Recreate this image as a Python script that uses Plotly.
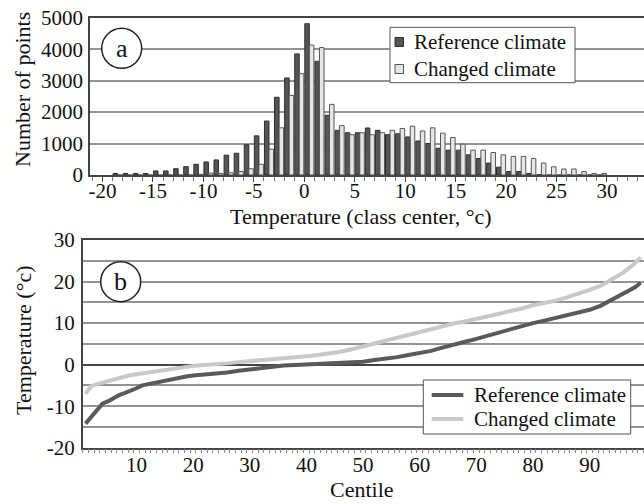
import plotly.graph_objects as go

# ---------------- Data: panel (a) histogram ----------------
class_lower = list(range(-19, 30))
ref_counts = [50, 50, 50, 50, 130, 130, 200, 265, 340, 415, 480, 630, 690, 960, 1245, 1715,
              2470, 3085, 3850, 4810, 3615, 1900, 1420, 1345, 1345, 1495, 1420, 1280, 1310,
              1210, 1080, 1000, 850, 790, 790, 640, 525, 380, 250, 110, 110, 50, 10,
              0, 0, 0, 0, 0, 0]
chg_counts = [0, 0, 0, 0, 0, 0, 0, 0, 20, 60, 50, 70, 110, 200, 340, 820,
              1500, 2530, 3220, 4130, 4050, 2245, 1570, 1280, 1345, 1280, 1345, 1420, 1480,
              1550, 1400, 1500, 1330, 1190, 980, 790, 790, 715, 640, 590, 590, 525, 380,
              260, 190, 190, 105, 50, 50]

# ---------------- Data: panel (b) centiles ----------------
centiles = [1, 2, 3, 4, 5, 6, 7, 8, 9, 10, 11, 12, 13, 14, 15, 16, 17, 18, 19, 20,
            22, 24, 26, 28, 30, 32, 34, 36, 38, 40, 42, 44, 46, 48, 50, 52, 54, 56, 58, 60,
            62, 64, 66, 68, 70, 72, 74, 76, 78, 80, 82, 84, 86, 88, 90, 92, 94, 96, 98, 99]
ref_temp = [-14.2, -12.5, -10.8, -9.4, -8.8, -8.0, -7.3, -6.8, -6.3, -5.7, -5.0, -4.7, -4.4,
            -4.1, -3.9, -3.6, -3.3, -3.0, -2.8, -2.6,
            -2.4, -2.1, -1.9, -1.5, -1.2, -0.8, -0.4, -0.2, -0.1, 0.0, 0.2, 0.3, 0.3, 0.4,
            0.7, 1.1, 1.4, 1.8, 2.3, 2.7,
            3.3, 4.1, 4.9, 5.5, 6.2, 7.0, 7.7, 8.4, 9.2, 10.0, 10.6, 11.3, 12.0, 12.6, 13.2,
            14.2, 15.6, 17.0, 18.6, 19.7]
chg_temp = [-7.0, -5.2, -4.7, -4.3, -3.9, -3.6, -3.2, -2.8, -2.5, -2.3, -2.1, -1.9, -1.6,
            -1.4, -1.2, -1.0, -0.8, -0.6, -0.4, -0.3,
            -0.1, 0.0, 0.3, 0.6, 0.8, 1.0, 1.2, 1.5, 1.8, 2.0, 2.3, 2.6, 3.1, 3.7,
            4.4, 5.1, 5.7, 6.4, 7.2, 7.9,
            8.5, 9.2, 9.9, 10.4, 11.0, 11.6, 12.2, 12.9, 13.5, 14.3, 14.8, 15.4, 16.2, 17.0,
            18.0, 19.0, 20.5, 22.2, 24.4, 25.8]

series_names = ["Reference climate", "Changed climate"]
hist_xticks = [-20, -15, -10, -5, 0, 5, 10, 15, 20, 25, 30]
hist_xlabels = ["-20", "-15", "-10", "-5", "0", "5", "10", "15", "20", "25", "30"]
hist_yticks = [0, 1000, 2000, 3000, 4000, 5000]
cent_xticks = [10, 20, 30, 40, 50, 60, 70, 80, 90]
temp_yticks = [-20, -15, -10, -5, 0, 5, 10, 15, 20, 25, 30]
temp_ylabels = ["-20", "", "-10", "", "0", "", "10", "", "20", "", "30"]

FONT = "Liberation Serif"
W, H = 644, 504

BAR_FILL = ["#555555", "#e6e6e6"]
BAR_EDGE = ["#2e2e2e", "#555555"]
LINE_COL = ["#5a5a5a", "#c8c8c8"]


def px(x):
    return x / W


def py(y):
    return (H - y) / H


class_mid = [k + 0.5 for k in class_lower]

fig = go.Figure()
for vals, i in [(ref_counts, 0), (chg_counts, 1)]:
    fig.add_trace(go.Bar(x=class_mid, y=vals, name=series_names[i],
                         marker=dict(color=BAR_FILL[i], line=dict(color=BAR_EDGE[i], width=1)),
                         xaxis="x", yaxis="y", showlegend=False))
for vals, i in [(ref_temp, 0), (chg_temp, 1)]:
    fig.add_trace(go.Scatter(x=centiles, y=vals, mode="lines", name=series_names[i],
                             line=dict(color=LINE_COL[i], width=4),
                             xaxis="x2", yaxis="y2", showlegend=False))

tickfont = dict(family=FONT, size=21, color="#111")

fig.update_layout(
    width=W, height=H,
    margin=dict(l=0, r=0, t=0, b=0, autoexpand=False),
    paper_bgcolor="white", plot_bgcolor="white",
    font=dict(family=FONT, size=21, color="#111"),
    barmode="group", bargap=0.1, bargroupgap=0.0,
    showlegend=False,
    xaxis=dict(domain=[px(90), 1.0], anchor="y", range=[-21.24, 33.67], automargin=False,
               tickvals=hist_xticks, ticktext=hist_xlabels, ticks="outside", ticklen=5,
               tickcolor="#444", ticklabelstandoff=-9,
               showgrid=False, zeroline=False, showline=True, linecolor="#444",
               linewidth=1.5, mirror=True, tickfont=tickfont,
               minor=dict(dtick=1, tick0=0, ticks="outside", ticklen=4, tickcolor="#777")),
    yaxis=dict(domain=[py(175), py(17.7)], anchor="x", range=[0, 5000], automargin=False,
               tickvals=hist_yticks, ticktext=[str(v) for v in hist_yticks],
               showgrid=True, gridcolor="#939393", gridwidth=1.5, zeroline=False,
               showline=True, linecolor="#444", linewidth=1.5, ticks="", tickfont=tickfont,
               ticklabelstandoff=1),
    xaxis2=dict(domain=[px(82.7), 1.0], anchor="y2", range=[0.5, 99.6], automargin=False,
                tickvals=cent_xticks, ticktext=[str(v) for v in cent_xticks],
                ticks="", showgrid=False, zeroline=False, ticklabelstandoff=-3,
                showline=True, linecolor="#444", linewidth=1.5, mirror=True, tickfont=tickfont,
                minor=dict(dtick=1, tick0=0.5, ticks="outside", ticklen=4, tickcolor="#888")),
    yaxis2=dict(domain=[py(447.7), py(240)], anchor="x2", range=[-20, 30], automargin=False,
                tickvals=temp_yticks, ticktext=temp_ylabels,
                showgrid=True, gridcolor="#939393", gridwidth=1.5,
                zeroline=True, zerolinecolor="#444", zerolinewidth=1.5,
                showline=True, linecolor="#444", linewidth=1.5, ticks="", tickfont=tickfont,
                ticklabelstandoff=2),
)

# ---- Legend (a): box with square swatches ----
fig.add_shape(type="rect", xref="paper", yref="paper",
              x0=px(390), x1=px(575), y0=py(82.7), y1=py(27.3),
              line=dict(color="#555", width=1), fillcolor="white", layer="above")
for i, yc in enumerate([42, 69]):
    fig.add_shape(type="rect", xref="paper", yref="paper",
                  x0=px(395), x1=px(403.5), y0=py(yc + 4.5), y1=py(yc - 4.5),
                  line=dict(color=BAR_EDGE[i], width=1), fillcolor=BAR_FILL[i], layer="above")
    fig.add_annotation(x=px(412), y=py(yc), xref="paper", yref="paper", text=series_names[i],
                       showarrow=False, xanchor="left", yanchor="middle",
                       font=dict(family=FONT, size=21, color="#111"))

# ---- Legend (b): box with line swatches ----
fig.add_shape(type="rect", xref="paper", yref="paper",
              x0=px(423.3), x1=px(630.7), y0=py(434), y1=py(380),
              line=dict(color="#555", width=1), fillcolor="white", layer="above")
for i, yc in enumerate([395, 419]):
    fig.add_shape(type="line", xref="paper", yref="paper",
                  x0=px(431.7), x1=px(463.3), y0=py(yc), y1=py(yc),
                  line=dict(color=LINE_COL[i], width=4), layer="above")
    fig.add_annotation(x=px(472), y=py(yc), xref="paper", yref="paper", text=series_names[i],
                       showarrow=False, xanchor="left", yanchor="middle",
                       font=dict(family=FONT, size=21, color="#111"))

# Panel labels (circled letters)
for (cx, cy, label) in [(121.7, 48.3, "a"), (120.7, 281.7, "b")]:
    r = 20
    fig.add_shape(type="circle", xref="paper", yref="paper",
                  x0=px(cx - r), x1=px(cx + r), y0=py(cy + r), y1=py(cy - r),
                  line=dict(color="#222", width=1.5), fillcolor="white", layer="above")
    fig.add_annotation(x=px(cx), y=py(cy), xref="paper", yref="paper", text=label,
                       showarrow=False, font=dict(family=FONT, size=26, color="#111"),
                       xanchor="center", yanchor="middle")

# Axis titles
titles = [
    (22, 90, "Number of points", -90),
    (361, 216, "Temperature (class center, °c)", 0),
    (23, 340, "Temperature (°c)", -90),
    (362, 489, "Centile", 0),
]
for (x, y, t, ang) in titles:
    fig.add_annotation(x=px(x), y=py(y), xref="paper", yref="paper", text=t,
                       showarrow=False, textangle=ang,
                       font=dict(family=FONT, size=22, color="#111"),
                       xanchor="center", yanchor="middle")

fig.write_html("out.html", config={"displayModeBar": False},
               post_script="document.body.style.margin='0';document.body.style.overflow='hidden';")
